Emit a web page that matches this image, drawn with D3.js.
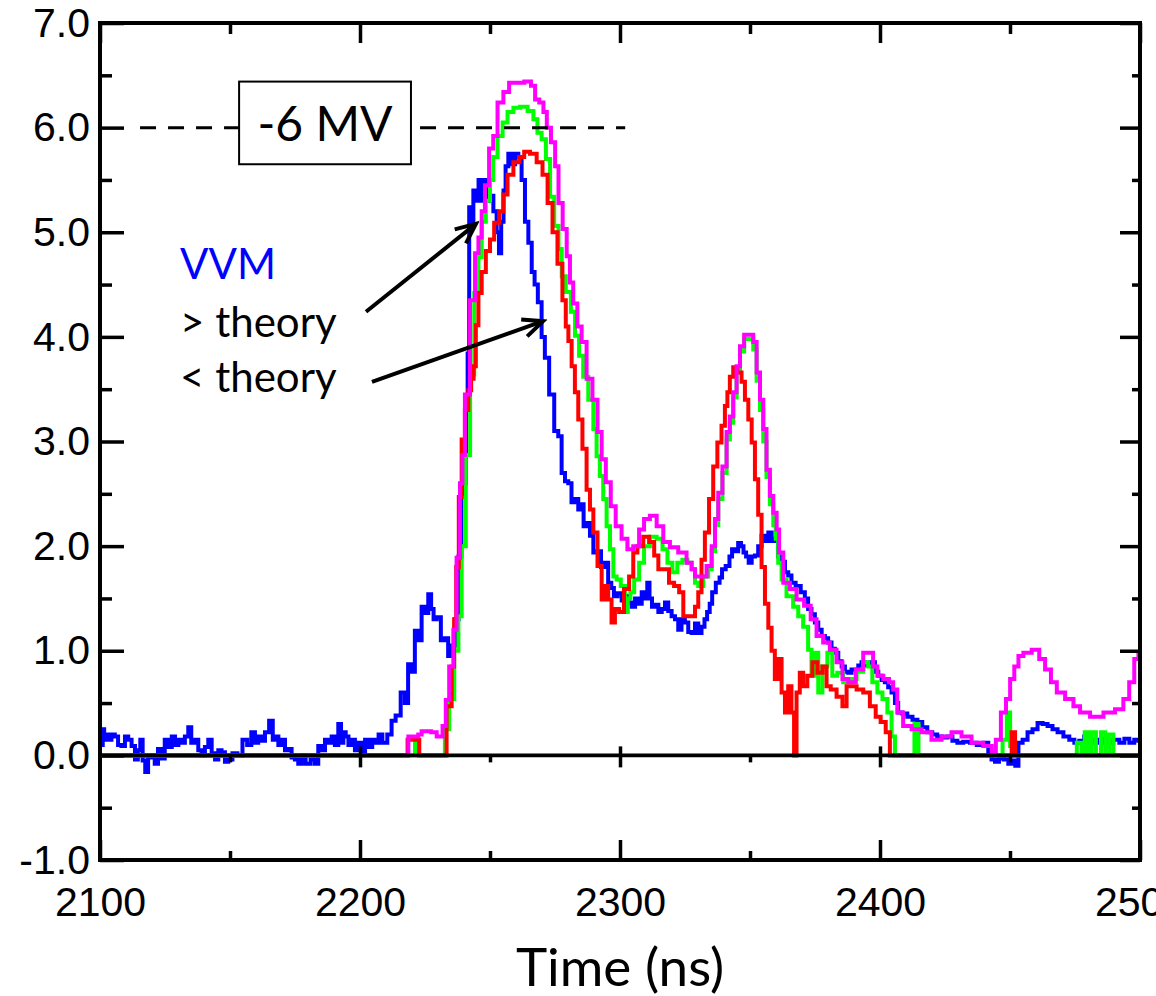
<!DOCTYPE html>
<html>
<head>
<meta charset="utf-8">
<title>VVM vs theory</title>
<script src="https://d3js.org/d3.v7.min.js"></script>
<style>
  html, body { margin: 0; padding: 0; background: #fff; }
  .tick text { font-family: "Liberation Sans", Arial, sans-serif; font-size: 41px; fill: #000; }
  .tick line { stroke: #000; stroke-width: 3.5px; }
  .domain { display: none; }
  .note { font-family: Lato, "Open Sans", sans-serif; }
</style>
</head>
<body>
<script>
// x ticks (ns) and y ticks (MV)
var xMajor = [2100, 2200, 2300, 2400, 2500];
var xMinor = [2150, 2250, 2350, 2450];
var yMajor = [-1, 0, 1, 2, 3, 4, 5, 6, 7];
var yMinor = [-0.5, 0.5, 1.5, 2.5, 3.5, 4.5, 5.5, 6.5];

// traces: [time ns, voltage MV]
var blueTrace = [[2100,0.2],[2100.8,0.1],[2101.3,0.25],[2101.9,0.15],[2102.8,0.2],[2103.8,0.15],[2105,0.2],[2106.4,0.18],[2107.5,0.1],[2109,0.09],[2110.2,0.18],[2111.5,0.15],[2112.8,0.09],[2114.1,-0.04],[2115,0.05],[2116,0.15],[2116.8,-0.05],[2118,-0.16],[2119,-0.02],[2120.5,0],[2121.6,-0.08],[2123,0.06],[2124.2,-0.03],[2125.6,0.15],[2127,0.08],[2128.2,0.18],[2129.5,0.1],[2130.8,0.15],[2132,0.12],[2133.3,0.18],[2134.6,0.27],[2135.6,0.12],[2137.2,0.15],[2138.4,0.05],[2139.7,0],[2141,0.08],[2142.3,0.15],[2143.6,0.02],[2144.9,-0.04],[2146.1,0.05],[2147.4,0.03],[2148.7,-0.06],[2150,-0.04],[2151.9,0.02],[2153.8,0],[2155.8,0.15],[2157.4,0.1],[2159,0.22],[2160.2,0.12],[2161.5,0.18],[2162.8,0.14],[2164.1,0.22],[2166,0.33],[2166.9,0.15],[2168,0.18],[2169.2,0.1],[2170.5,0.15],[2171.8,0.05],[2173.1,0.06],[2174.3,-0.02],[2175.6,-0.04],[2176.9,-0.08],[2178.2,0],[2180,-0.08],[2182,-0.04],[2183.3,-0.08],[2184.6,0.09],[2185.9,0.05],[2187.2,0.15],[2188.5,0.12],[2189.7,0.18],[2191,0.1],[2192.3,0.3],[2193.1,0.12],[2194.1,0.22],[2194.9,0.18],[2196.2,0.1],[2197.4,0.15],[2198.7,0.05],[2200,0.12],[2201.3,0.03],[2202.6,0.15],[2204,0.08],[2205.4,0.15],[2206.6,0.12],[2207.7,0.2],[2209.5,0.12],[2211.5,0.2],[2212.8,0.33],[2214.6,0.38],[2216.7,0.6],[2217.8,0.5],[2219.2,0.87],[2220.4,0.8],[2221.8,1.19],[2223,1.1],[2224.4,1.42],[2225.6,1.36],[2226.9,1.54],[2227.8,1.4],[2228.8,1.3],[2230.2,1.32],[2232,1.1],[2233.2,1.12],[2234.6,0.95],[2235.8,1.05],[2237.3,1.3],[2238.5,1.9],[2239.5,2.5],[2240.4,2.6],[2241.1,3.3],[2241.7,3.84],[2242.3,5.24],[2243,5.1],[2244.2,5.4],[2245,5.3],[2246.2,5.5],[2247.3,5.3],[2248.5,5.5],[2249.7,5.3],[2250.6,5.35],[2252,5.2],[2253.1,5.0],[2253.8,4.8],[2254.8,5.1],[2255.6,5.4],[2256.4,5.63],[2257.7,5.75],[2259,5.65],[2260.3,5.75],[2261.5,5.72],[2262.8,5.5],[2264.1,5.1],[2265.4,4.9],[2266.7,4.62],[2267.6,4.5],[2269.2,4.33],[2270.5,4.0],[2271.7,3.8],[2273.8,3.45],[2275.6,3.1],[2276.9,3.05],[2278.2,2.7],[2279.5,2.62],[2280.7,2.6],[2282,2.42],[2283.3,2.45],[2284.6,2.35],[2285.5,2.4],[2286.5,2.19],[2287.8,2.22],[2289.1,2.1],[2290.4,1.94],[2291.8,1.95],[2293.6,1.8],[2294.8,1.84],[2296.1,1.65],[2297.2,1.6],[2298.1,1.52],[2300,1.55],[2301.3,1.48],[2302.5,1.52],[2303.8,1.46],[2305.1,1.42],[2306.5,1.5],[2307.7,1.45],[2309,1.56],[2310.1,1.5],[2310.9,1.65],[2311.8,1.5],[2312.8,1.42],[2314.1,1.44],[2315.4,1.37],[2316.7,1.4],[2317.9,1.46],[2319.2,1.38],[2320.5,1.33],[2321.8,1.3],[2323,1.2],[2324.3,1.3],[2325.6,1.27],[2326.9,1.18],[2328.2,1.17],[2329.5,1.26],[2330.7,1.17],[2332,1.23],[2333,1.3],[2334,1.37],[2335,1.45],[2335.9,1.56],[2337.8,1.65],[2338.8,1.7],[2339.7,1.78],[2341.6,1.81],[2342.6,1.9],[2343.6,1.97],[2344.8,1.95],[2346.1,2.03],[2347,2.0],[2348,1.94],[2349,1.9],[2350,1.84],[2351.3,1.9],[2352.5,1.91],[2353.8,2.0],[2355.1,2.1],[2356.4,2.05],[2357.7,2.13],[2359,2.05],[2360.2,2.07],[2361.5,1.9],[2362.8,1.85],[2364.1,1.75],[2365.3,1.72],[2366.6,1.65],[2368.5,1.62],[2370.5,1.56],[2371.7,1.5],[2373,1.4],[2374.3,1.35],[2375.6,1.27],[2376.9,1.2],[2378.2,1.14],[2379.4,1.12],[2380.7,1.08],[2382,1.02],[2383.3,0.98],[2384.6,0.9],[2385.9,0.85],[2387.1,0.8],[2388.4,0.79],[2389.7,0.82],[2391,0.82],[2392.3,0.86],[2393.5,0.89],[2395,0.86],[2397.4,0.89],[2398.7,0.8],[2400,0.76],[2401.2,0.72],[2402.5,0.7],[2403.8,0.65],[2405.1,0.6],[2406.4,0.5],[2407.6,0.41],[2409.5,0.4],[2411.5,0.37],[2413.5,0.34],[2415.3,0.32],[2417.2,0.27],[2419.2,0.22],[2421,0.2],[2423,0.18],[2425,0.17],[2426.9,0.18],[2428.8,0.14],[2430.7,0.12],[2433.3,0.13],[2435.9,0.12],[2438.5,0.1],[2441,0.12],[2442.3,0.03],[2443.5,-0.04],[2445,-0.06],[2446.5,-0.03],[2448.7,-0.04],[2450,-0.08],[2451.5,-0.05],[2452.6,-0.1],[2453.9,0.12],[2455.8,0.15],[2457.7,0.22],[2459.6,0.25],[2461.6,0.31],[2463.5,0.3],[2465.4,0.28],[2467.3,0.25],[2469.3,0.22],[2471.8,0.18],[2473.8,0.15],[2475.7,0.12],[2477.6,0.14],[2479.5,0.18],[2481.5,0.12],[2483,0.15],[2484.7,0.12],[2486.5,0.16],[2488.3,0.12],[2491.1,0.15],[2493,0.12],[2495,0.16],[2496.8,0.12],[2498.8,0.15],[2500,0.14]];

var greenTrace = [[2100,0],[2220.5,0],[2221.8,0.12],[2223.1,0],[2232,0],[2233.3,0.25],[2235.3,0.54],[2237.2,1.0],[2238.5,1.33],[2239.7,2.0],[2241.7,2.87],[2243,3.64],[2244.9,4.42],[2246.2,4.76],[2247.4,5.1],[2249.4,5.3],[2250.6,5.5],[2251.9,5.72],[2253.9,5.92],[2255.8,6.05],[2257.7,6.15],[2260.3,6.19],[2262.8,6.2],[2266.1,6.16],[2267.3,6.08],[2269.2,5.95],[2270.5,5.89],[2272.5,5.7],[2273.7,5.34],[2275.7,5.06],[2277,4.84],[2278.2,4.58],[2280.1,4.43],[2282.1,4.24],[2283.3,4.01],[2285.2,3.82],[2286.5,3.62],[2289.1,3.4],[2290.4,3.12],[2291.6,2.86],[2292.9,2.67],[2294.2,2.45],[2295.5,2.19],[2296.8,1.97],[2298.1,1.71],[2299.3,1.68],[2301.3,1.62],[2302.5,1.37],[2303.5,1.5],[2304.5,1.56],[2306.4,1.68],[2308.3,1.84],[2310.2,2.0],[2312.8,2.09],[2315.4,2.07],[2317.3,1.97],[2319.2,1.84],[2321.1,1.75],[2323,1.84],[2325,1.87],[2326.9,1.84],[2328.2,1.78],[2329.5,1.65],[2330.7,1.62],[2333.3,1.71],[2334.6,1.78],[2335.9,1.95],[2337.2,2.2],[2338.4,2.45],[2340.4,2.7],[2341.6,3.02],[2342.9,3.18],[2344.2,3.42],[2345.5,3.66],[2346.8,3.86],[2348.7,3.98],[2350.6,3.98],[2351.9,3.88],[2353.2,3.58],[2354.5,3.3],[2355.7,3.0],[2357,2.66],[2358.3,2.4],[2359.6,2.2],[2360.2,2.07],[2361.5,1.84],[2362.8,1.68],[2365.3,1.52],[2367.9,1.42],[2369.2,1.33],[2371.7,1.23],[2373,1.01],[2374.3,0.76],[2375.6,0.98],[2376.9,0.6],[2378.8,0.85],[2380.7,0.98],[2382.6,0.76],[2384.6,0.79],[2387.1,0.7],[2389.7,0.73],[2392.3,0.8],[2394.8,0.89],[2396.1,0.85],[2398,0.7],[2400,0.6],[2401.9,0.54],[2403.8,0.41],[2405.1,0.18],[2406.4,0],[2413,0],[2413.5,0.3],[2416.1,0],[2446.2,0],[2448.1,0.15],[2449.4,0.41],[2450.7,0.09],[2452,0],[2474.4,0],[2477,0.12],[2478,0],[2479.5,0.22],[2480.8,0],[2482.1,0.22],[2484,0],[2486,0.22],[2487.2,0],[2489.1,0.2],[2490.4,0],[2500,0]];

var redTrace = [[2100,0],[2215.4,0],[2221.2,0.15],[2224.4,0],[2232,0],[2234.6,0.47],[2235.9,0.85],[2236.5,1.3],[2237.5,1.8],[2238.5,2.47],[2239.7,3.02],[2241,3.3],[2242.3,3.49],[2243.2,3.6],[2244.2,3.72],[2244.9,4.11],[2246.2,4.42],[2247.4,4.62],[2249.4,4.82],[2250.6,4.93],[2252.6,5.09],[2254.5,5.2],[2255.8,5.36],[2257.7,5.55],[2260.3,5.67],[2262.2,5.72],[2264.1,5.77],[2266.7,5.75],[2269.2,5.67],[2271.2,5.55],[2273.1,5.28],[2275,5.0],[2276.9,4.7],[2278.8,4.35],[2279.5,4.1],[2280.8,3.96],[2282,3.72],[2283.3,3.47],[2284.6,3.21],[2286.5,2.93],[2287.8,2.54],[2289.1,2.35],[2290.4,2.13],[2292.3,1.81],[2293.6,1.49],[2294.8,1.62],[2296.1,1.49],[2297.4,1.27],[2298.7,1.4],[2300.6,1.37],[2302.5,1.59],[2304.5,1.71],[2305.7,1.94],[2307.7,2.0],[2310.2,2.09],[2312.2,2.04],[2314.1,1.91],[2315.4,1.78],[2317.9,1.78],[2319.8,1.65],[2321.8,1.62],[2323.7,1.56],[2325,1.33],[2328.2,1.33],[2329.5,1.42],[2330.7,1.56],[2332,1.87],[2333.3,2.13],[2335.2,2.45],[2336.5,2.76],[2338.4,2.99],[2339.7,3.15],[2341,3.34],[2341.6,3.47],[2342.9,3.62],[2344.2,3.71],[2346.1,3.66],[2347.4,3.57],[2348.7,3.4],[2350,3.21],[2351.3,2.99],[2352.5,2.64],[2353.8,2.3],[2355.1,1.8],[2356.4,1.45],[2357.7,1.22],[2358.9,1.0],[2360.2,0.73],[2361.5,0.92],[2362.8,0.6],[2364.1,0.41],[2365.3,0.66],[2366.6,0.41],[2367.3,0],[2368.5,0.6],[2369.8,0.79],[2371.1,0.66],[2373,0.76],[2375,0.89],[2376.9,0.79],[2378.8,0.85],[2380.1,0.66],[2382,0.63],[2384.6,0.56],[2386.5,0.47],[2387.8,0.66],[2389.7,0.66],[2392.3,0.63],[2394.8,0.6],[2397.4,0.47],[2399.3,0.37],[2401.2,0.32],[2403.2,0.22],[2404.4,0],[2450,0],[2451.3,0.22],[2452.6,0],[2500,0]];

var magentaTrace = [[2100,0],[2215.4,0],[2221.8,0.18],[2223,0.2],[2224.4,0.23],[2226.5,0.23],[2228.2,0.22],[2230.8,0.18],[2232.7,0.28],[2233.3,0.53],[2235.3,0.85],[2236.5,1.2],[2237.8,1.89],[2239.1,2.6],[2239.7,2.87],[2241,3.45],[2243.6,4.35],[2244.9,4.8],[2246.2,4.95],[2247.4,5.2],[2248.7,5.45],[2250.6,5.8],[2251.9,5.92],[2253.9,6.24],[2256.4,6.34],[2258.3,6.43],[2261.6,6.43],[2264.8,6.44],[2266.7,6.4],[2268,6.27],[2269.9,6.24],[2271.2,6.15],[2272.5,6.0],[2274.4,5.86],[2275.7,5.63],[2277,5.28],[2278.9,5.03],[2280.1,4.77],[2281.4,4.52],[2282.6,4.32],[2284.6,4.1],[2285.9,3.95],[2288.4,3.6],[2290.4,3.4],[2292.3,3.09],[2293.6,2.83],[2295.5,2.61],[2297.4,2.38],[2299.3,2.19],[2301.9,2.07],[2303.8,1.97],[2306.4,2.0],[2308.3,2.16],[2310.2,2.26],[2312.8,2.29],[2315.4,2.19],[2317.9,2.04],[2320.5,1.99],[2324.3,1.94],[2326.9,1.84],[2328.2,1.78],[2329.5,1.71],[2332,1.71],[2334.6,1.81],[2335.9,2.0],[2337.2,2.26],[2338.4,2.51],[2340.4,2.76],[2341.6,3.09],[2342.9,3.24],[2344.2,3.47],[2345.5,3.72],[2346.8,3.91],[2348.7,4.02],[2350.6,4.02],[2351.9,3.95],[2353.2,3.66],[2354.5,3.4],[2355.7,3.12],[2357,2.73],[2358.3,2.48],[2359.6,2.32],[2360.9,2.16],[2361.5,1.94],[2364.1,1.65],[2366.6,1.59],[2369.2,1.49],[2372.4,1.43],[2374.3,1.3],[2376.9,1.14],[2379.4,1.08],[2382,1.01],[2384.6,0.89],[2386.5,0.73],[2389.1,0.7],[2392.3,0.82],[2394.8,0.98],[2396.7,0.98],[2398,0.85],[2400,0.76],[2402.5,0.73],[2404.4,0.7],[2405.7,0.63],[2407.6,0.41],[2410.2,0.28],[2414.1,0.25],[2417.9,0.22],[2421.7,0.15],[2425.6,0.18],[2429.4,0.22],[2433.3,0.18],[2437.1,0.12],[2442.3,0.09],[2443.6,0.03],[2445.5,0.15],[2447.5,0.41],[2449.4,0.54],[2450.7,0.73],[2452.6,0.85],[2453.9,0.95],[2456.4,0.98],[2460.3,1.01],[2462.2,0.92],[2464.8,0.82],[2466.7,0.7],[2469.3,0.6],[2473.1,0.54],[2475.7,0.47],[2478.2,0.41],[2483.4,0.37],[2488.5,0.41],[2492.3,0.44],[2494.9,0.54],[2496.8,0.7],[2498.8,0.92],[2500,0.98]];

// drawing order, bottom first
var traces = [
  {name: "blue", color: "#0000ff", pts: blueTrace},
  {name: "green", color: "#00ff00", pts: greenTrace},
  {name: "red", color: "#ff0000", pts: redTrace},
  {name: "magenta", color: "#ff00ff", pts: magentaTrace}
];

var W = 1156, H = 996;
var margin = {top: 23, right: 16, bottom: 136, left: 100};
var width = W - margin.left - margin.right,   // 1040
    height = H - margin.top - margin.bottom;  // 837

var svg = d3.select("body").append("svg")
    .attr("width", W).attr("height", H)
    .style("display", "block");

var g = svg.append("g")
    .attr("transform", "translate(" + margin.left + "," + margin.top + ")");

var x = d3.scaleLinear().domain([2100, 2500]).range([0, width]);
var y = d3.scaleLinear().domain([-1, 7]).range([height, 0]);

g.append("clipPath").attr("id", "plot-clip")
  .append("rect").attr("width", width).attr("height", height);

var line = d3.line()
    .curve(d3.curveStep)
    .x(function(d) { return x(d[0]); })
    .y(function(d) { return y(d[1]); });

g.append("g").attr("clip-path", "url(#plot-clip)")
  .selectAll("path")
  .data(traces)
  .enter().append("path")
    .attr("d", function(d) { return line(d.pts); })
    .attr("fill", "none")
    .attr("stroke", function(d) { return d.color; })
    .attr("stroke-width", 4);

// zero line with its own ticks
g.append("line")
  .attr("x1", 0).attr("x2", width)
  .attr("y1", y(0)).attr("y2", y(0))
  .attr("stroke", "#000").attr("stroke-width", 3.6);

g.append("g").attr("transform", "translate(0," + y(0) + ")")
  .call(d3.axisBottom(x).tickValues(xMajor.slice(1, -1)).tickSize(12).tickFormat(""));
g.append("g").attr("transform", "translate(0," + y(0) + ")")
  .call(d3.axisTop(x).tickValues(xMajor.slice(1, -1)).tickSize(9).tickFormat(""));
g.append("g").attr("transform", "translate(0," + y(0) + ")")
  .call(d3.axisBottom(x).tickValues(xMinor).tickSize(7).tickFormat(""));

// axes, ticks pointing inward
var fmt = function(d) { return d.toFixed(1); };

g.append("g").attr("transform", "translate(0," + height + ")")
  .call(d3.axisBottom(x).tickValues(xMajor).tickSizeInner(-20).tickSizeOuter(0)
        .tickPadding(27).tickFormat(d3.format("d")));
g.append("g").attr("transform", "translate(0," + height + ")")
  .call(d3.axisBottom(x).tickValues(xMinor).tickSizeInner(-9).tickSizeOuter(0).tickFormat(""));
g.append("g")
  .call(d3.axisTop(x).tickValues(xMajor).tickSizeInner(-20).tickSizeOuter(0).tickFormat(""));
g.append("g")
  .call(d3.axisTop(x).tickValues(xMinor).tickSizeInner(-11).tickSizeOuter(0).tickFormat(""));

g.append("g")
  .call(d3.axisLeft(y).tickValues(yMajor).tickSizeInner(-24).tickSizeOuter(0)
        .tickPadding(10).tickFormat(fmt));
g.append("g")
  .call(d3.axisLeft(y).tickValues(yMinor).tickSizeInner(-12).tickSizeOuter(0).tickFormat(""));
g.append("g").attr("transform", "translate(" + width + ",0)")
  .call(d3.axisRight(y).tickValues(yMajor).tickSizeInner(-20).tickSizeOuter(0).tickFormat(""));
g.append("g").attr("transform", "translate(" + width + ",0)")
  .call(d3.axisRight(y).tickValues(yMinor).tickSizeInner(-8).tickSizeOuter(0).tickFormat(""));

// frame
g.append("rect")
  .attr("width", width).attr("height", height)
  .attr("fill", "none").attr("stroke", "#000").attr("stroke-width", 4);

// x title
svg.append("text")
  .attr("class", "note")
  .attr("x", margin.left + x(2300)).attr("y", 986)
  .attr("text-anchor", "middle")
  .style("font-size", "53px")
  .text("Time (ns)");

// -6 MV reference line and label box
g.append("line")
  .attr("x1", x(2115.4)).attr("x2", x(2302))
  .attr("y1", y(6)).attr("y2", y(6))
  .attr("stroke", "#000").attr("stroke-width", 3)
  .attr("stroke-dasharray", "16,12");

g.append("rect")
  .attr("x", x(2153.5)).attr("y", y(6.44))
  .attr("width", x(2219.6) - x(2153.5)).attr("height", y(5.65) - y(6.44))
  .attr("fill", "#fff").attr("stroke", "#000").attr("stroke-width", 2);

g.append("text")
  .attr("class", "note")
  .attr("x", (x(2153.5) + x(2219.6)) / 2).attr("y", y(5.87))
  .attr("text-anchor", "middle")
  .style("font-size", "48px")
  .text("-6 MV");

// notes and arrows
var notes = [
  {text: "VVM", color: "#0000ff", t: 2130.8, v: 4.55},
  {text: "> theory", color: "#000", t: 2130.8, v: 4.0},
  {text: "< theory", color: "#000", t: 2130.8, v: 3.47}
];
g.selectAll("text.lbl").data(notes).enter().append("text")
  .attr("class", "note lbl")
  .attr("x", function(d) { return x(d.t); })
  .attr("y", function(d) { return y(d.v); })
  .attr("fill", function(d) { return d.color; })
  .style("font-size", "42px")
  .text(function(d) { return d.text; });

svg.append("defs").append("marker")
  .attr("id", "head")
  .attr("markerUnits", "userSpaceOnUse")
  .attr("viewBox", "-24 -12 28 24")
  .attr("markerWidth", 28).attr("markerHeight", 24)
  .attr("refX", 0).attr("refY", 0)
  .attr("orient", "auto")
  .append("path")
    .attr("d", "M-20,-9L0,0L-20,9")
    .attr("fill", "none").attr("stroke", "#000").attr("stroke-width", 4);

var arrows = [
  {t0: 2202.3, v0: 4.24, t1: 2244.6, v1: 5.08},
  {t0: 2204.6, v0: 3.57, t1: 2270.4, v1: 4.15}
];
g.selectAll("line.arrow").data(arrows).enter().append("line")
  .attr("class", "arrow")
  .attr("x1", function(d) { return x(d.t0); })
  .attr("y1", function(d) { return y(d.v0); })
  .attr("x2", function(d) { return x(d.t1); })
  .attr("y2", function(d) { return y(d.v1); })
  .attr("stroke", "#000").attr("stroke-width", 4)
  .attr("marker-end", "url(#head)");
</script>
</body>
</html>
